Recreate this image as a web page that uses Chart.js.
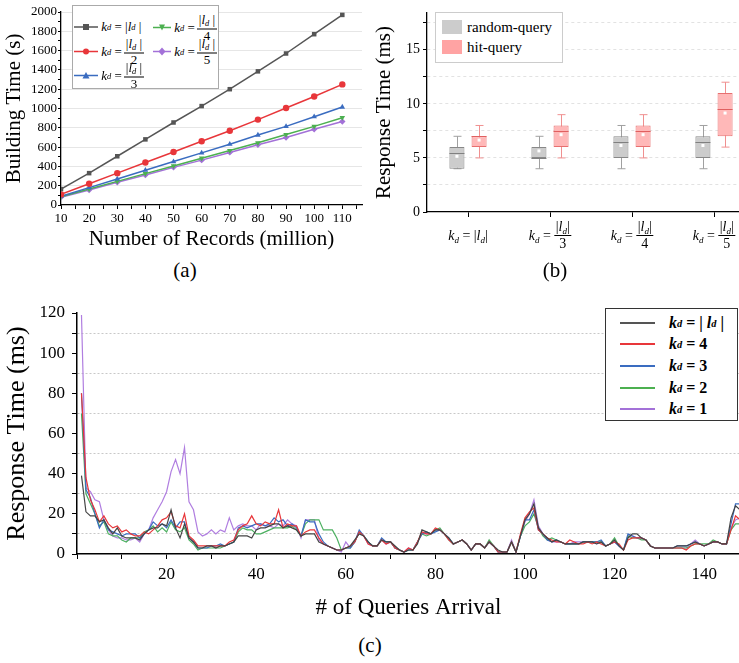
<!DOCTYPE html>
<html>
<head>
<meta charset="utf-8">
<script src="https://cdn.jsdelivr.net/npm/chart.js@4.4.0/dist/chart.umd.min.js"></script>
<style>
body{margin:0;width:739px;height:663px;overflow:hidden;background:#fff;position:relative;font-family:"Liberation Serif",serif;color:#000}
canvas{position:absolute}
.cap{position:absolute;font-size:21px;transform:translateX(-50%)}
.legend{position:absolute;background:#fff}
.it{position:absolute;display:flex;align-items:center;white-space:nowrap;transform:translateY(-50%)}
.fr{display:inline-flex;flex-direction:column;align-items:center;vertical-align:middle;margin-left:2px}
.fr .nu{border-bottom:1px solid #000;padding:0 2px;line-height:11px}
.fr .de{line-height:11px;font-style:normal}
sub{font-size:0.65em;vertical-align:-2px}
.sw{position:absolute;width:20px;height:14px}
.ln{display:inline-block;width:35px;height:2px;margin-right:14px}
</style>
</head>
<body>
<canvas id="chartA" width="370" height="255" style="left:0;top:0"></canvas>
<canvas id="chartB" width="385" height="260" style="left:370px;top:0"></canvas>
<canvas id="chartC" width="745" height="330" style="left:0;top:295px"></canvas>

<div class="legend" style="left:72px;top:5px;width:145px;height:82px;border:1px solid #aaa;font:italic 13px 'Liberation Serif'">
  <div class="it" style="left:1px;top:21px"><svg width="24" height="10"><line x1="0" y1="5" x2="24" y2="5" stroke="#555" stroke-width="1.5"/><rect x="9" y="2" width="6" height="6" fill="#555"/></svg>&nbsp;k<sub>d</sub><span style="font-style:normal">&nbsp;= |</span>l<sub>d</sub><span style="font-style:normal">&nbsp;|</span></div>
  <div class="it" style="left:80px;top:21px"><svg width="18" height="10"><line x1="0" y1="5" x2="18" y2="5" stroke="#4cb050" stroke-width="1.5"/><path d="M6 2 L12 2 L9 8 Z" fill="#4cb050"/></svg>&nbsp;k<sub>d</sub><span style="font-style:normal">&nbsp;=</span><span class="fr"><span class="nu"><span style="font-style:normal">|</span>l<sub>d</sub><span style="font-style:normal"> |</span></span><span class="de">4</span></span></div>
  <div class="it" style="left:1px;top:45px"><svg width="24" height="10"><line x1="0" y1="5" x2="24" y2="5" stroke="#e8363a" stroke-width="1.5"/><circle cx="12" cy="5" r="3" fill="#e8363a"/></svg>&nbsp;k<sub>d</sub><span style="font-style:normal">&nbsp;=</span><span class="fr"><span class="nu"><span style="font-style:normal">|</span>l<sub>d</sub><span style="font-style:normal"> |</span></span><span class="de">2</span></span></div>
  <div class="it" style="left:80px;top:45px"><svg width="18" height="10"><line x1="0" y1="5" x2="18" y2="5" stroke="#a371d8" stroke-width="1.5"/><path d="M9 1 L12.5 5 L9 9 L5.5 5 Z" fill="#a371d8"/></svg>&nbsp;k<sub>d</sub><span style="font-style:normal">&nbsp;=</span><span class="fr"><span class="nu"><span style="font-style:normal">|</span>l<sub>d</sub><span style="font-style:normal"> |</span></span><span class="de">5</span></span></div>
  <div class="it" style="left:1px;top:69px"><svg width="24" height="10"><line x1="0" y1="5" x2="24" y2="5" stroke="#3a6cc0" stroke-width="1.5"/><path d="M12 1.5 L15.5 8 L8.5 8 Z" fill="#3a6cc0"/></svg>&nbsp;k<sub>d</sub><span style="font-style:normal">&nbsp;=</span><span class="fr"><span class="nu"><span style="font-style:normal">|</span>l<sub>d</sub><span style="font-style:normal"> |</span></span><span class="de">3</span></span></div>
</div>

<div class="legend" style="left:435px;top:12px;width:126px;height:49px;border:1px solid #ccc;font-size:15px">
  <div class="sw" style="left:6px;top:7px;background:#cccccc"></div>
  <div class="it" style="left:31px;top:14px">random-query</div>
  <div class="sw" style="left:6px;top:27px;background:#ffa3a3"></div>
  <div class="it" style="left:31px;top:34px">hit-query</div>
</div>

<div class="legend" style="left:605px;top:308px;width:131px;height:111px;border:1px solid #333;font:bold italic 16px 'Liberation Serif'">
  <div class="it" style="left:14px;top:14px"><span class="ln" style="background:#555"></span>k<sub>d</sub><span style="font-style:normal">&nbsp;= |&nbsp;</span>l<sub>d</sub><span style="font-style:normal">&nbsp;|</span></div>
  <div class="it" style="left:14px;top:35px"><span class="ln" style="background:#e8363a;height:1.5px"></span>k<sub>d</sub><span style="font-style:normal">&nbsp;= 4</span></div>
  <div class="it" style="left:14px;top:57px"><span class="ln" style="background:#3a6cc0;height:1.5px"></span>k<sub>d</sub><span style="font-style:normal">&nbsp;= 3</span></div>
  <div class="it" style="left:14px;top:79px"><span class="ln" style="background:#4cb050;height:1.5px"></span>k<sub>d</sub><span style="font-style:normal">&nbsp;= 2</span></div>
  <div class="it" style="left:14px;top:100px"><span class="ln" style="background:#a371d8;height:1.5px"></span>k<sub>d</sub><span style="font-style:normal">&nbsp;= 1</span></div>
</div>

<div class="cap" style="left:185px;top:258px">(a)</div>
<div class="cap" style="left:555px;top:258px">(b)</div>
<div class="cap" style="left:370px;top:633px">(c)</div>

<script>
const SERIF = '"Liberation Serif", serif';

// (a) building time
const records = [10, 20, 30, 40, 50, 60, 70, 80, 90, 100, 110];
const buildFull = [165, 330, 505, 680, 855, 1025, 1200, 1385, 1570, 1770, 1970];
const buildHalf = [110, 220, 330, 440, 550, 660, 770, 885, 1005, 1125, 1250];
const buildThird = [90, 180, 270, 360, 450, 540, 630, 725, 815, 915, 1015];
const buildQuarter = [85, 165, 245, 325, 405, 485, 565, 645, 730, 815, 905];
const buildFifth = [80, 155, 235, 310, 390, 465, 545, 625, 700, 785, 865];

// (b) box stats per kd setting
const boxCats = ['|ld|', '|ld|/3', '|ld|/4', '|ld|/5'];
const boxDenoms = [null, '3', '4', '5'];
const randMin = [4, 4, 4, 4];
const randQ1 = [4, 5, 5, 5];
const randMed = [5.5, 5, 6.5, 6.5];
const randQ3 = [6, 6, 7, 7];
const randMax = [7, 7, 8, 8];
const randMean = [5.15, 5.65, 6.15, 6.15];
const hitMin = [5, 5, 5, 6];
const hitQ1 = [6, 6, 6, 7];
const hitMed = [7, 7.5, 7.5, 9.5];
const hitQ3 = [7, 8, 8, 11];
const hitMax = [8, 9, 9, 12];
const hitMean = [6.65, 7.15, 7.15, 9.15];

// (c) response time per query arrival (1..148)
const respFull = [
  39,21,19,19,16,17,13,10,13,9, 8,8,8,7,10,12,13,13,15,14,
  22,13,8,15,8,6,3,3,4,4, 3,4,4,5,6,9,9,9,8,12,
  13,13,14,15,15,13,14,13,12,9, 10,10,10,6,5,4,3,2,2,3,
  4,7,10,9,6,4,4,7,6,6, 4,2,1,2,2,5,12,11,10,12,
  12,10,8,5,6,7,5,2,5,5, 3,6,4,2,1,1,6,1,9,17,
  20,25,13,10,8,6,7,6,5,5, 5,5,6,6,6,5,6,4,5,7,
  4,2,8,10,10,8,7,4,3,3, 3,3,3,4,4,4,5,6,5,4,
  5,6,6,5,5,18,24,22];
const respK4 = [
  80,38,27,22,16,19,15,13,14,11, 12,10,9,9,11,10,12,14,17,18,
  21,14,13,20,9,7,4,4,4,4, 4,4,4,6,7,12,14,15,19,15,
  14,16,15,15,22,13,15,14,14,9, 11,12,12,8,5,4,3,2,2,3,
  4,6,11,9,5,4,4,7,5,6, 3,2,1,3,2,6,11,10,10,13,
  12,10,7,5,6,7,5,2,5,5, 3,6,4,1,1,1,6,1,10,18,
  21,23,12,10,8,7,6,6,5,7, 6,5,5,6,5,6,5,4,5,6,
  5,2,7,8,8,8,7,4,3,3, 3,3,3,3,3,2,4,5,5,4,
  5,6,6,5,5,12,19,17];
const respK3 = [
  80,32,28,20,13,17,12,11,10,9, 10,10,10,8,10,12,16,14,15,13,
  17,13,16,16,8,6,3,3,3,4, 4,5,4,5,6,13,14,13,14,15,
  15,14,15,18,16,17,14,15,13,9, 17,16,16,10,6,4,3,2,2,3,
  3,6,12,9,6,4,4,8,6,6, 3,2,1,2,2,6,10,11,10,11,
  12,10,8,5,6,7,5,2,5,5, 3,6,4,1,1,1,6,1,9,17,
  17,22,12,10,7,6,7,6,5,5, 5,5,6,6,6,6,7,4,5,6,
  4,2,10,9,8,8,7,4,3,3, 3,3,3,4,4,4,5,6,5,4,
  5,6,6,5,5,15,25,25];
const respK2 = [
  70,30,25,20,14,16,10,9,9,7, 6,8,8,8,11,12,14,11,13,11,
  16,12,11,13,7,5,2,3,3,3, 3,3,4,5,6,11,13,12,12,10,
  10,11,12,13,13,13,13,14,12,9, 15,17,17,17,12,12,12,8,2,3,
  3,6,11,9,6,4,4,7,6,6, 3,2,1,2,2,6,10,9,10,12,
  13,10,7,5,6,7,5,2,5,5, 3,7,4,1,1,1,6,1,9,14,
  16,20,13,9,7,8,7,6,5,5, 5,5,6,6,6,6,6,4,5,8,
  4,2,9,8,8,7,7,4,3,3, 3,3,3,3,3,3,4,5,5,5,
  5,7,6,5,5,12,15,15];
const respK1 = [
  119,33,31,27,26,17,12,9,8,8, 7,7,8,6,10,12,18,22,26,31,
  41,47,40,53,26,22,11,9,10,12, 10,12,11,18,12,14,15,14,14,12,
  15,14,14,13,15,14,17,15,14,8, 17,17,17,7,5,4,3,2,1,6,
  3,6,11,9,5,4,4,7,5,6, 3,2,1,3,2,6,10,10,10,12,
  12,10,7,5,6,7,5,2,5,5, 3,6,4,1,1,1,7,1,9,16,
  20,27,14,10,7,6,6,6,5,5, 6,6,6,6,6,5,6,4,5,6,
  4,2,9,9,8,8,7,4,3,3, 3,3,3,3,3,3,5,7,5,4,
  5,6,6,5,5,13,17,18];

const noUi = { legend: { display: false }, tooltip: { enabled: false } };

// ---------- (a)
function lineSet(data, color, style, rot) {
  return {
    data: data.map((v, i) => ({ x: records[i], y: v })),
    borderColor: color, backgroundColor: color, borderWidth: 1.5,
    pointStyle: style, pointRotation: rot || 0, pointRadius: 3.2, pointBorderWidth: 0
  };
}
new Chart(document.getElementById('chartA'), {
  type: 'line',
  data: {
    datasets: [
      lineSet(buildFull, '#555555', 'rect'),
      lineSet(buildHalf, '#e8363a', 'circle'),
      lineSet(buildThird, '#3a6cc0', 'triangle'),
      lineSet(buildQuarter, '#4cb050', 'triangle', 180),
      lineSet(buildFifth, '#a371d8', 'rectRot')
    ]
  },
  options: {
    responsive: false, animation: false,
    layout: { padding: { top: 12, right: 8, left: 0, bottom: 0 } },
    plugins: noUi,
    scales: {
      x: {
        type: 'linear', min: 10, max: 117,
        afterBuildTicks: s => { s.ticks = s.ticks.filter(t => t.value % 5 === 0); },
        afterFit: s => { s.height = 50; },
        ticks: { stepSize: 5, includeBounds: false, autoSkip: false, maxRotation: 0, padding: 2, color: '#000',
          font: { family: SERIF, size: 13 }, callback: v => v % 10 === 0 ? v : '' },
        grid: { drawOnChartArea: false, tickLength: 4, tickColor: '#000' },
        border: { color: '#000', width: 1.3 },
        title: { display: true, text: 'Number of Records (million)', color: '#000',
          font: { family: SERIF, size: 21 }, padding: { top: 0, bottom: 3 } }
      },
      y: {
        min: 0, max: 2000,
        afterFit: s => { s.width = 61; },
        ticks: { stepSize: 100, autoSkip: false, padding: 1, color: '#000',
          font: { family: SERIF, size: 13 }, callback: v => v % 200 === 0 ? v : '' },
        grid: { color: c => (c.tick && c.tick.value % 200 === 0 && c.tick.value > 0) ? '#e6e6e6' : 'transparent',
          tickLength: 3, tickColor: '#000' },
        border: { color: '#000', width: 1.3 },
        title: { display: true, text: 'Building Time (s)', color: '#000',
          font: { family: SERIF, size: 21 }, padding: { top: 2, bottom: 0 } }
      }
    }
  }
});

// ---------- (b)
const boxStyle = [
  { fill: '#cccccc', edge: '#888888', whisk: '#a0a0a0', med: '#808080' },
  { fill: '#ffb8b8', edge: '#e87070', whisk: '#f09090', med: '#e06060' }
];
const boxStats = [
  { min: randMin, med: randMed, max: randMax, mean: randMean },
  { min: hitMin, med: hitMed, max: hitMax, mean: hitMean }
];
const bigF = 'italic 14px ' + SERIF, subF = 'italic 9px ' + SERIF, romF = '14px ' + SERIF;
const kdPre = [['k', bigF, 0], ['d', subF, 3], [' = ', romF, 0]];
const ldPcs = [['|', romF, 0], ['l', bigF, 0], ['d', subF, 3], ['|', romF, 0]];
function piecesW(ctx, pcs) { let w = 0; pcs.forEach(p => { ctx.font = p[1]; w += ctx.measureText(p[0]).width; }); return w; }
function drawPieces(ctx, pcs, x, y) { pcs.forEach(p => { ctx.font = p[1]; ctx.fillText(p[0], x, y + p[2]); x += ctx.measureText(p[0]).width; }); }

const boxPlugin = {
  id: 'boxExtras',
  beforeDatasetsDraw(chart) {
    const ctx = chart.ctx, y = chart.scales.y;
    ctx.save();
    boxStats.forEach((st, di) => {
      chart.getDatasetMeta(di).data.forEach((bar, i) => {
        ctx.strokeStyle = boxStyle[di].whisk; ctx.lineWidth = 1;
        const x = Math.round(bar.x) + 0.5, lo = y.getPixelForValue(st.min[i]), hi = y.getPixelForValue(st.max[i]);
        ctx.beginPath();
        ctx.moveTo(x, lo); ctx.lineTo(x, hi);
        ctx.moveTo(x - 4, lo); ctx.lineTo(x + 4, lo);
        ctx.moveTo(x - 4, hi); ctx.lineTo(x + 4, hi);
        ctx.stroke();
      });
    });
    ctx.restore();
  },
  afterDatasetsDraw(chart) {
    const ctx = chart.ctx, y = chart.scales.y;
    ctx.save();
    boxStats.forEach((st, di) => {
      chart.getDatasetMeta(di).data.forEach((bar, i) => {
        const m = Math.round(y.getPixelForValue(st.med[i])) + 0.5;
        ctx.strokeStyle = boxStyle[di].med; ctx.lineWidth = 1;
        ctx.beginPath(); ctx.moveTo(bar.x - bar.width / 2, m); ctx.lineTo(bar.x + bar.width / 2, m); ctx.stroke();
        ctx.fillStyle = '#fff';
        ctx.fillRect(bar.x - 1.5, y.getPixelForValue(st.mean[i]) - 1.5, 3, 3);
      });
    });
    ctx.restore();
  },
  afterDraw(chart) {
    const ctx = chart.ctx, xs = chart.scales.x;
    ctx.save();
    ctx.fillStyle = '#000'; ctx.textAlign = 'left'; ctx.textBaseline = 'alphabetic';
    boxDenoms.forEach((den, i) => {
      const cx = xs.getPixelForTick(i), pw = piecesW(ctx, kdPre), nw = piecesW(ctx, ldPcs);
      if (den === null) {
        const x = cx - (pw + nw) / 2;
        drawPieces(ctx, kdPre, x, 240); drawPieces(ctx, ldPcs, x + pw, 240);
      } else {
        ctx.font = romF;
        const dw = ctx.measureText(den).width, fw = Math.max(nw, dw) + 3;
        const x = cx - (pw + fw) / 2, fx = x + pw;
        drawPieces(ctx, kdPre, x, 240);
        drawPieces(ctx, ldPcs, fx + (fw - nw) / 2, 231);
        ctx.fillRect(fx, 235, fw, 1);
        ctx.font = romF; ctx.fillText(den, fx + (fw - dw) / 2, 248);
      }
    });
    ctx.restore();
  }
};

new Chart(document.getElementById('chartB'), {
  type: 'bar',
  data: {
    labels: boxCats,
    datasets: [
      { data: randQ1.map((q, i) => [q, randQ3[i]]), backgroundColor: boxStyle[0].fill,
        borderColor: boxStyle[0].edge, borderWidth: 1, borderSkipped: false },
      { data: hitQ1.map((q, i) => [q, hitQ3[i]]), backgroundColor: boxStyle[1].fill,
        borderColor: boxStyle[1].edge, borderWidth: 1, borderSkipped: false }
    ]
  },
  options: {
    responsive: false, animation: false,
    categoryPercentage: 0.54, barPercentage: 0.68,
    layout: { padding: { top: 13, right: 0, left: 0, bottom: 0 } },
    plugins: noUi,
    scales: {
      x: {
        offset: true,
        afterFit: s => { s.height = 48; },
        ticks: { callback: () => '', font: { size: 10 } },
        grid: { offset: false, drawOnChartArea: false, tickLength: 5, tickColor: '#000' },
        border: { color: '#000', width: 1.3 }
      },
      y: {
        min: 0, max: 18.4,
        afterBuildTicks: s => { s.ticks = s.ticks.filter(t => t.value % 2.5 === 0); },
        afterFit: s => { s.width = 57; },
        ticks: { stepSize: 2.5, includeBounds: false, autoSkip: false, padding: 3, color: '#000',
          font: { family: SERIF, size: 14 }, callback: v => v % 5 === 0 ? v : '' },
        grid: { color: c => (c.tick && c.tick.value > 0) ? '#e2e2e2' : 'transparent', tickLength: 4, tickColor: '#000' },
        border: { color: '#000', width: 1.3, dash: [3, 3] },
        title: { display: true, text: 'Response Time (ms)', color: '#000',
          font: { family: SERIF, size: 21 }, padding: { top: 2, bottom: 2 } }
      }
    }
  },
  plugins: [boxPlugin]
});

// ---------- (c)
function respSet(data, color) {
  return { data: data.map((v, i) => ({ x: i + 1, y: v })), borderColor: color,
    borderWidth: 1.2, pointRadius: 0, tension: 0 };
}
new Chart(document.getElementById('chartC'), {
  type: 'line',
  data: {
    datasets: [
      respSet(respFull, '#444444'),
      respSet(respK4, '#e8363a'),
      respSet(respK3, '#3a6cc0'),
      respSet(respK2, '#4cb060'),
      respSet(respK1, '#b07ee0')
    ]
  },
  options: {
    responsive: false, animation: false,
    layout: { padding: { top: 18, right: 5, left: 0, bottom: 0 } },
    plugins: noUi,
    scales: {
      x: {
        type: 'linear', min: 0, max: 148,
        afterBuildTicks: s => { s.ticks = s.ticks.filter(t => t.value % 10 === 0); },
        afterFit: s => { s.height = 71; },
        ticks: { stepSize: 10, includeBounds: false, autoSkip: false, maxRotation: 0, padding: 5, color: '#000',
          font: { family: SERIF, size: 17 }, callback: v => (v % 20 === 0 && v > 0) ? v : '' },
        grid: { drawOnChartArea: false, tickLength: 5, tickColor: '#000' },
        border: { color: '#000', width: 1.5 },
        title: { display: true, text: '# of Queries Arrival', color: '#000',
          font: { family: SERIF, size: 23 }, padding: { top: 0, bottom: 3 } }
      },
      y: {
        min: 0, max: 120,
        afterFit: s => { s.width = 77; },
        ticks: { stepSize: 10, autoSkip: false, padding: 7, color: '#000',
          font: { family: SERIF, size: 17 }, callback: v => v % 20 === 0 ? v : '' },
        grid: { color: c => (c.tick && c.tick.value % 20 === 10) ? '#c8c8c8' : 'transparent',
          tickLength: 5, tickColor: '#000' },
        border: { color: '#000', width: 1.5, dash: [2, 2] },
        title: { display: true, text: 'Response Time (ms)', color: '#000',
          font: { family: SERIF, size: 26 }, padding: { top: 2, bottom: 2 } }
      }
    }
  }
});
</script>
</body>
</html>
